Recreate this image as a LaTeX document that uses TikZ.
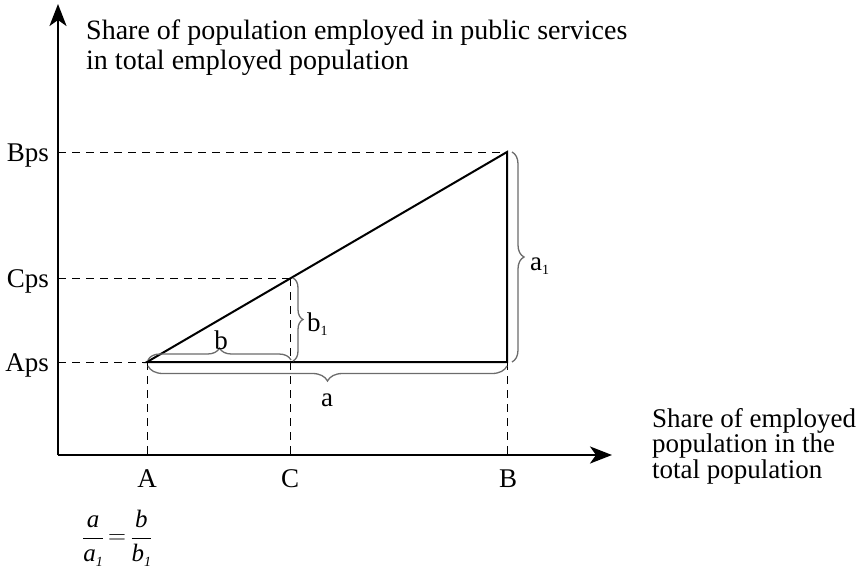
\documentclass[tikz,border=0pt]{standalone}
\usepackage{fontspec}
\setmainfont{Liberation Serif}
\usetikzlibrary{arrows.meta,decorations.pathreplacing}
\begin{document}
\begin{tikzpicture}[x=1pt,y=-1pt,
  axis/.style={line width=2.6pt,-{Stealth[length=22pt,width=17pt,inset=6pt]}},
  tri/.style={line width=2pt},
  guide/.style={line width=0.9pt,dash pattern=on 8pt off 6pt},
  brc/.style={gray!85!black,line width=1.3pt,decorate,decoration={brace,amplitude=#1}},
  brc/.default=10pt,
  lbl/.style={font=\fontsize{27}{27}\selectfont,inner sep=0pt},
  ttl/.style={font=\fontsize{28}{30}\selectfont,inner sep=0pt,align=left}]
\useasboundingbox (0,0) rectangle (858,579);
% points
\coordinate (O) at (58,455);
\coordinate (Ytop) at (58,4);
\coordinate (Xend) at (612,455);
\coordinate (P) at (147,362);
\coordinate (Q) at (290,278);
\coordinate (R) at (507,152);
\coordinate (S) at (507,362);
\coordinate (yA) at (58,362);
\coordinate (yC) at (58,278);
\coordinate (yB) at (58,152);
\coordinate (xA) at (147,455);
\coordinate (xC) at (290,455);
\coordinate (xB) at (507,455);
% brace end points
\coordinate (bL) at (148,360);
\coordinate (bR) at (291,360);
\coordinate (aL) at (148,366);
\coordinate (aR) at (507,366);
\coordinate (b1T) at (293,278);
\coordinate (b1B) at (293,361);
\coordinate (a1T) at (512,152);
\coordinate (a1B) at (512,362);
% guides
\draw[guide] (yB) -- (R);
\draw[guide] (yC) -- (Q);
\draw[guide] (yA) -- (P);
\draw[guide] (P) -- (xA);
\draw[guide] (Q) -- (xC);
\draw[guide] (S) -- (xB);
% triangle
\draw[tri] (P) -- (R) -- (S) -- cycle;
% braces
\draw[brc=12pt] (bL) -- (bR);
\draw[brc=15pt] (aR) -- (aL);
\draw[brc=10pt] (b1T) -- (b1B);
\draw[brc=12pt] (a1T) -- (a1B);
% axes
\draw[axis] (O) -- (Ytop);
\draw[axis] (O) -- (Xend);
% labels
\node[lbl,anchor=base east] (lB) at (49,161) {Bps};
\node[lbl,anchor=base east] (lC) at (49,287) {Cps};
\node[lbl,anchor=base east] (lA) at (49,371) {Aps};
\node[lbl,anchor=base] (la) at (147,487) {A};
\node[lbl,anchor=base] (lc) at (290,487) {C};
\node[lbl,anchor=base] (lb) at (508,487) {B};
\node[lbl,anchor=base] (ba) at (327,406) {a};
\node[lbl,anchor=base] (bb) at (221,349) {b};
\node[lbl,anchor=base west] (bb1) at (307,331) {b\raisebox{-0.4ex}{\fontsize{14}{14}\selectfont 1}};
\node[lbl,anchor=base west] (ba1) at (530,270) {a\raisebox{-0.4ex}{\fontsize{14}{14}\selectfont 1}};
\node[ttl,anchor=base west] (ty) at (86,69) {Share of population employed in public services\\in total employed population};
\node[ttl,anchor=base west,font=\fontsize{27}{25.5}\selectfont] (tx) at (652,478) {Share of employed\\population in the\\total population};
\node[lbl,anchor=west,font=\fontsize{25}{25}\selectfont] (eq) at (82,538) {$\displaystyle\frac{\mbox{\itshape a}}{\mbox{\itshape a\raisebox{-0.45ex}{\fontsize{14}{14}\selectfont 1}}}\mkern-2mu=\mkern-2mu\frac{\mbox{\itshape b}}{\mbox{\itshape b\raisebox{-0.45ex}{\fontsize{14}{14}\selectfont 1}}}$};
\end{tikzpicture}
\end{document}
